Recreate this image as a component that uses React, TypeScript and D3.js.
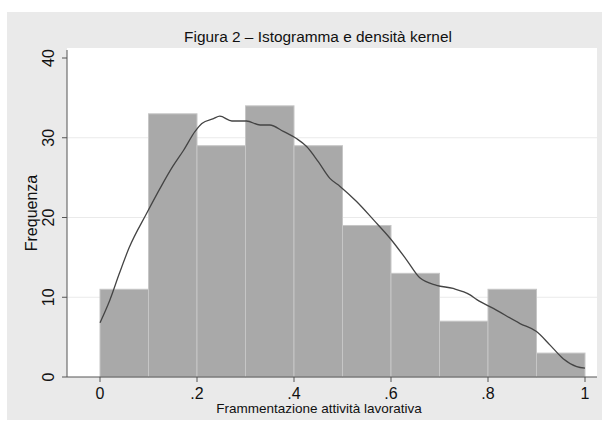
import React from "react";
import * as d3 from "d3";

const binStarts = [0, 0.1, 0.2, 0.3, 0.4, 0.5, 0.6, 0.7, 0.8, 0.9];
const binCounts = [11, 33, 29, 34, 29, 19, 13, 7, 11, 3];
const binWidth = 0.1;

const densityX = [0.0, 0.02, 0.04, 0.06, 0.096, 0.127, 0.15, 0.172, 0.196, 0.21, 0.234, 0.247, 0.272, 0.302, 0.33, 0.35, 0.378, 0.405, 0.426, 0.45, 0.474, 0.495, 0.529, 0.564, 0.598, 0.632, 0.66, 0.694, 0.728, 0.763, 0.777, 0.811, 0.866, 0.9, 0.928, 0.955, 0.983, 1.0];
const densityY = [6.8, 9.6, 13.0, 16.2, 20.5, 24.0, 26.4, 28.4, 30.8, 31.8, 32.4, 32.7, 32.1, 32.1, 31.6, 31.6, 30.8, 29.9, 28.9, 27.0, 24.9, 23.9, 22.0, 19.7, 17.4, 14.7, 12.4, 11.5, 11.1, 10.3, 9.7, 8.6, 6.7, 5.7, 4.0, 2.3, 1.3, 1.1];

const xTicks = [0, 0.2, 0.4, 0.6, 0.8, 1];
const xTickLabels = ["0", ".2", ".4", ".6", ".8", "1"];
const yTicks = [0, 10, 20, 30, 40];
const gridTicks = [10, 20, 30];

const title = "Figura 2 – Istogramma e densità kernel";
const xTitle = "Frammentazione attività lavorativa";
const yTitle = "Frequenza";

export default function App() {
  const W = 602, H = 426;
  const plotLeft = 67, plotRight = 597, plotTop = 48, plotBottom = 377;
  const x = d3.scaleLinear().domain([0, 1]).range([100, 585]);
  const y = d3.scaleLinear().domain([0, 40]).range([377, 58]);
  const font = "'Liberation Sans', Arial, Helvetica, sans-serif";
  const pts: [number, number][] = densityX.map((d, i) => [d, densityY[i]]);
  const line = d3.line<[number, number]>().x(d => x(d[0])).y(d => y(d[1])).curve(d3.curveMonotoneX);

  return (
    <svg width={W} height={H} style={{ position: "absolute", left: 0, top: 0 }} fontFamily={font}>
      <rect x={0} y={0} width={W} height={H} fill="#ffffff" />
      <rect x={7} y={12} width={W - 7} height={408} fill="#eaeaea" />
      <rect x={plotLeft} y={plotTop} width={plotRight - plotLeft} height={plotBottom - plotTop} fill="#ffffff" />
      {gridTicks.map(t => (
        <line key={t} x1={plotLeft} x2={plotRight} y1={y(t)} y2={y(t)} stroke="#eaeaea" strokeWidth={1} />
      ))}
      {binStarts.map((b, i) => (
        <rect key={i} x={x(b)} y={y(binCounts[i])} width={x(b + binWidth) - x(b)} height={y(0) - y(binCounts[i])}
          fill="#a9a9a9" stroke="#c6c6c6" strokeWidth={1} />
      ))}
      <path d={line(pts) || ""} fill="none" stroke="#444444" strokeWidth={1.3} />
      <line x1={plotLeft} x2={plotLeft} y1={plotTop + 2} y2={plotBottom} stroke="#555" strokeWidth={1} />
      <line x1={plotLeft} x2={plotRight} y1={plotBottom} y2={plotBottom} stroke="#555" strokeWidth={1} />
      {yTicks.map(t => (
        <g key={t}>
          <line x1={plotLeft - 5} x2={plotLeft} y1={y(t)} y2={y(t)} stroke="#555" strokeWidth={1} />
          <text transform={`translate(54,${y(t)}) rotate(-90)`} textAnchor="middle" fontSize={16} fill="#111">{t}</text>
        </g>
      ))}
      {xTicks.map((t, i) => (
        <g key={t}>
          <line x1={x(t)} x2={x(t)} y1={plotBottom} y2={plotBottom + 5} stroke="#555" strokeWidth={1} />
          <text x={x(t)} y={399} textAnchor="middle" fontSize={16} fill="#111">{xTickLabels[i]}</text>
        </g>
      ))}
      <text x={318} y={42} textAnchor="middle" fontSize={15.4} fill="#111">{title}</text>
      <text x={319} y={413} textAnchor="middle" fontSize={13.5} fill="#111">{xTitle}</text>
      <text transform={`translate(37,213) rotate(-90)`} textAnchor="middle" fontSize={16} fill="#111">{yTitle}</text>
    </svg>
  );
}
